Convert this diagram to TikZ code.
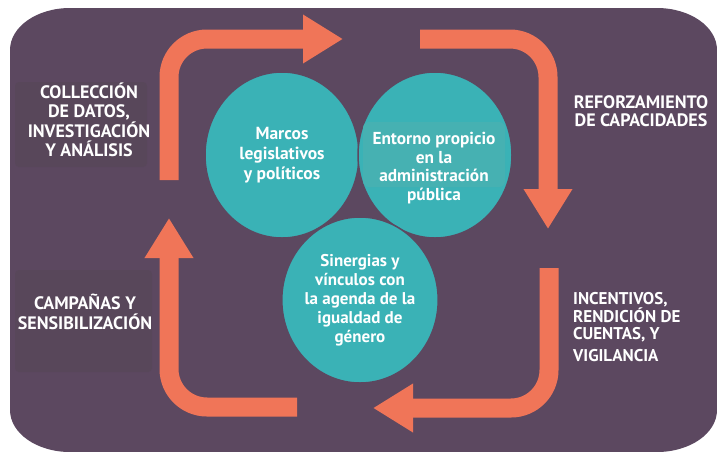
\documentclass[tikz,border=0pt]{standalone}
\usepackage{fontspec}
\setmainfont{PT Sans}
\usetikzlibrary{arrows.meta,shapes.geometric}

\definecolor{bgpurple}{RGB}{92,72,96}
\definecolor{boxpurple}{RGB}{88,71,90}
\definecolor{arrorange}{RGB}{240,117,88}
\definecolor{hubteal}{RGB}{58,178,182}
\definecolor{boxteal}{RGB}{70,177,178}

\tikzset{
  cycarrow/.style={draw=arrorange,line width=19pt,rounded corners=38pt,
    -{Triangle[width=46pt,length=40pt]}},
  hub/.style={ellipse,fill=hubteal,draw=bgpurple,line width=1.5pt,
    minimum width=154pt,minimum height=166pt,inner sep=0pt,
    text=white,align=center,font=\bfseries\fontsize{17.5}{20}\selectfont},
  steplabel/.style={text=white,align=center,inner sep=0pt,
    font=\bfseries\fontsize{18}{19.5}\selectfont}
}

\begin{document}
\begin{tikzpicture}[x=1pt,y=-1pt]
  \useasboundingbox (0,0) rectangle (717,451);
  \fill[bgpurple] (10,50) arc[start angle=180,end angle=270,x radius=60,y radius=42]
    -- (657,8) arc[start angle=270,end angle=360,x radius=60,y radius=42]
    -- (717,410) arc[start angle=0,end angle=90,x radius=60,y radius=42]
    -- (70,452) arc[start angle=90,end angle=180,x radius=60,y radius=42] -- cycle;
  \fill[boxpurple,rounded corners=4pt] (15,82) rectangle (147,167);
  \fill[boxpurple,rounded corners=4pt] (15,270) rectangle (152,372);

  \coordinate (a1) at (169,180);
  \coordinate (b1) at (343,39);
  \coordinate (a2) at (420,39);
  \coordinate (b2) at (548,229);
  \coordinate (a3) at (549,268);
  \coordinate (b3) at (373,408);
  \coordinate (a4) at (297,407);
  \coordinate (b4) at (169,218);
  \draw[cycarrow] (a1) |- (b1);
  \draw[cycarrow] (a2) -| (b2);
  \draw[cycarrow] (a3) |- (b3);
  \draw[cycarrow] (a4) -| (b4);

  \node[hub] (marcos) at (282,155) {Marcos\\legislativos\\y políticos};
  \node[hub] (entorno) at (435,155) {};
  \node[hub,font=\bfseries\fontsize{17}{19}\selectfont] (sinergias) at (360,300)
    {Sinergias y\\vínculos con\\la agenda de la\\igualdad de\\género};
  \fill[boxteal,rounded corners=6pt] (363,122) rectangle (505,187);
  \node[text=white,align=center,inner sep=0pt,
    font=\bfseries\fontsize{17.3}{18.5}\selectfont] (entornotxt) at (434,168)
    {Entorno propicio\\en la\\administración\\pública};

  \node[steplabel] (datos) at (89,120) {COLLECCIÓN\\DE DATOS,\\INVESTIGACIÓN\\Y ANÁLISIS};
  \node[steplabel,font=\bfseries\fontsize{18}{17.5}\selectfont] (capac) at (641,111)
    {REFORZAMIENTO\\DE CAPACIDADES};
  \node[steplabel,align=left,anchor=west,font=\bfseries\fontsize{17}{17.5}\selectfont]
    (incent) at (573,327) {INCENTIVOS,\\RENDICIÓN DE\\CUENTAS, Y\\[4pt]VIGILANCIA};
  \node[steplabel] (campan) at (85,312) {CAMPAÑAS Y\\SENSIBILIZACIÓN};
\end{tikzpicture}
\end{document}
